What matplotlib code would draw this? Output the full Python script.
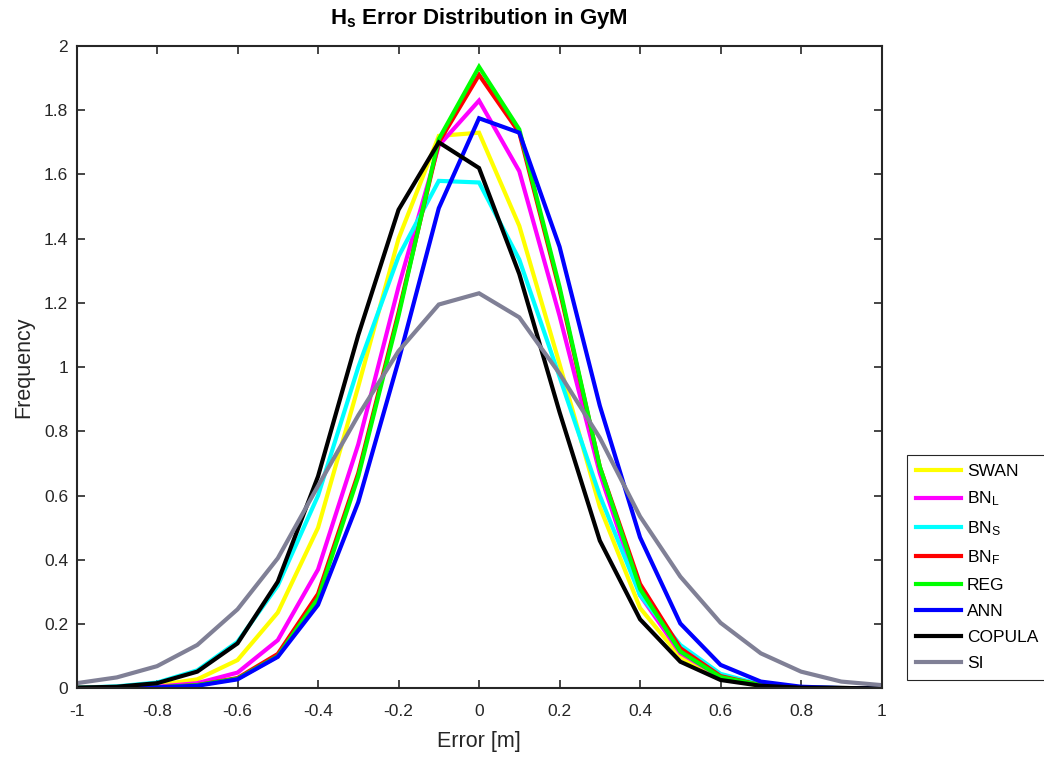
import matplotlib
matplotlib.use("Agg")
import matplotlib.pyplot as plt
import numpy as np

plt.rcParams['font.family'] = ['Liberation Sans', 'DejaVu Sans']
plt.rcParams['mathtext.default'] = 'regular'

error = np.round(np.arange(-1.0, 1.01, 0.1), 1) + 0.0

swan = [0.002, 0.003, 0.010, 0.028, 0.088, 0.236, 0.50, 0.94, 1.40, 1.72, 1.73,
        1.44, 1.01, 0.565, 0.25, 0.098, 0.031, 0.008, 0.002, 0.001, 0.0]
bn_l = [0.001, 0.002, 0.005, 0.016, 0.049, 0.150, 0.37, 0.76, 1.25, 1.69, 1.83,
        1.61, 1.16, 0.67, 0.29, 0.110, 0.035, 0.010, 0.002, 0.001, 0.0]
bn_s = [0.002, 0.006, 0.018, 0.056, 0.145, 0.320, 0.60, 1.00, 1.345, 1.58, 1.575,
        1.335, 0.97, 0.60, 0.29, 0.135, 0.045, 0.012, 0.003, 0.001, 0.0]
bn_f = [0.001, 0.002, 0.003, 0.010, 0.032, 0.107, 0.294, 0.67, 1.17, 1.70, 1.91,
        1.73, 1.24, 0.69, 0.325, 0.125, 0.038, 0.010, 0.002, 0.001, 0.0]
reg = [0.001, 0.002, 0.003, 0.010, 0.030, 0.100, 0.28, 0.66, 1.16, 1.71, 1.935,
       1.74, 1.25, 0.69, 0.31, 0.115, 0.035, 0.010, 0.002, 0.001, 0.0]
ann = [0.001, 0.001, 0.003, 0.008, 0.028, 0.098, 0.26, 0.58, 1.02, 1.495, 1.775,
       1.73, 1.375, 0.88, 0.47, 0.202, 0.073, 0.021, 0.005, 0.001, 0.0]
copula = [0.002, 0.005, 0.016, 0.052, 0.140, 0.332, 0.66, 1.10, 1.49, 1.70, 1.62,
          1.29, 0.86, 0.46, 0.215, 0.083, 0.026, 0.008, 0.002, 0.001, 0.0]
si = [0.016, 0.034, 0.069, 0.135, 0.246, 0.405, 0.63, 0.85, 1.05, 1.195, 1.23,
      1.155, 0.98, 0.78, 0.535, 0.348, 0.204, 0.109, 0.052, 0.021, 0.010]

x_ticks = [-1, -0.8, -0.6, -0.4, -0.2, 0, 0.2, 0.4, 0.6, 0.8, 1]
y_ticks = [0, 0.2, 0.4, 0.6, 0.8, 1, 1.2, 1.4, 1.6, 1.8, 2]

series = [
    ('SWAN', swan, '#ffff00'),
    ('BN$_L$', bn_l, '#ff00ff'),
    ('BN$_S$', bn_s, '#00ffff'),
    ('BN$_F$', bn_f, '#ff0000'),
    ('REG', reg, '#00ff00'),
    ('ANN', ann, '#0000ff'),
    ('COPULA', copula, '#000000'),
    ('SI', si, '#808096'),
]

fig = plt.figure(figsize=(10.44, 7.6), dpi=100)
ax = fig.add_axes([0.0733, 0.0943, 0.7711, 0.8452])

for name, vals, color in series:
    ax.plot(error, vals, color=color, lw=3.0, label=name, solid_joinstyle='miter')

ax.set_xlim(-1, 1)
ax.set_ylim(0, 2)
ax.set_xticks(x_ticks, ['%g' % v for v in x_ticks])
ax.set_yticks(y_ticks, ['%g' % v for v in y_ticks])
ax.tick_params(direction='in', top=True, right=True, length=6, width=1.2,
               labelsize=12.5, colors='#262626', pad=6)
ax.tick_params(axis='x', pad=11)
for sp in ax.spines.values():
    sp.set_linewidth(1.5)
    sp.set_color('#262626')

ax.set_xlabel('Error [m]', fontsize=15.5, color='#262626', labelpad=9)
ax.set_ylabel('Frequency', fontsize=15.5, color='#262626', labelpad=7)
ax.set_title('H$_s$ Error Distribution in GyM', fontsize=16, fontweight='bold',
             color='black', pad=16)

leg = ax.legend(loc='upper left', bbox_to_anchor=(0.8688, 0.4013),
                bbox_transform=fig.transFigure, borderaxespad=0,
                fancybox=False, framealpha=1, edgecolor='#262626',
                fontsize=12.5, handlelength=2.6, handletextpad=0.35,
                labelspacing=0.62, borderpad=0.5)
leg.get_frame().set_linewidth(0.8)

fig.savefig('out.png', dpi=100)
